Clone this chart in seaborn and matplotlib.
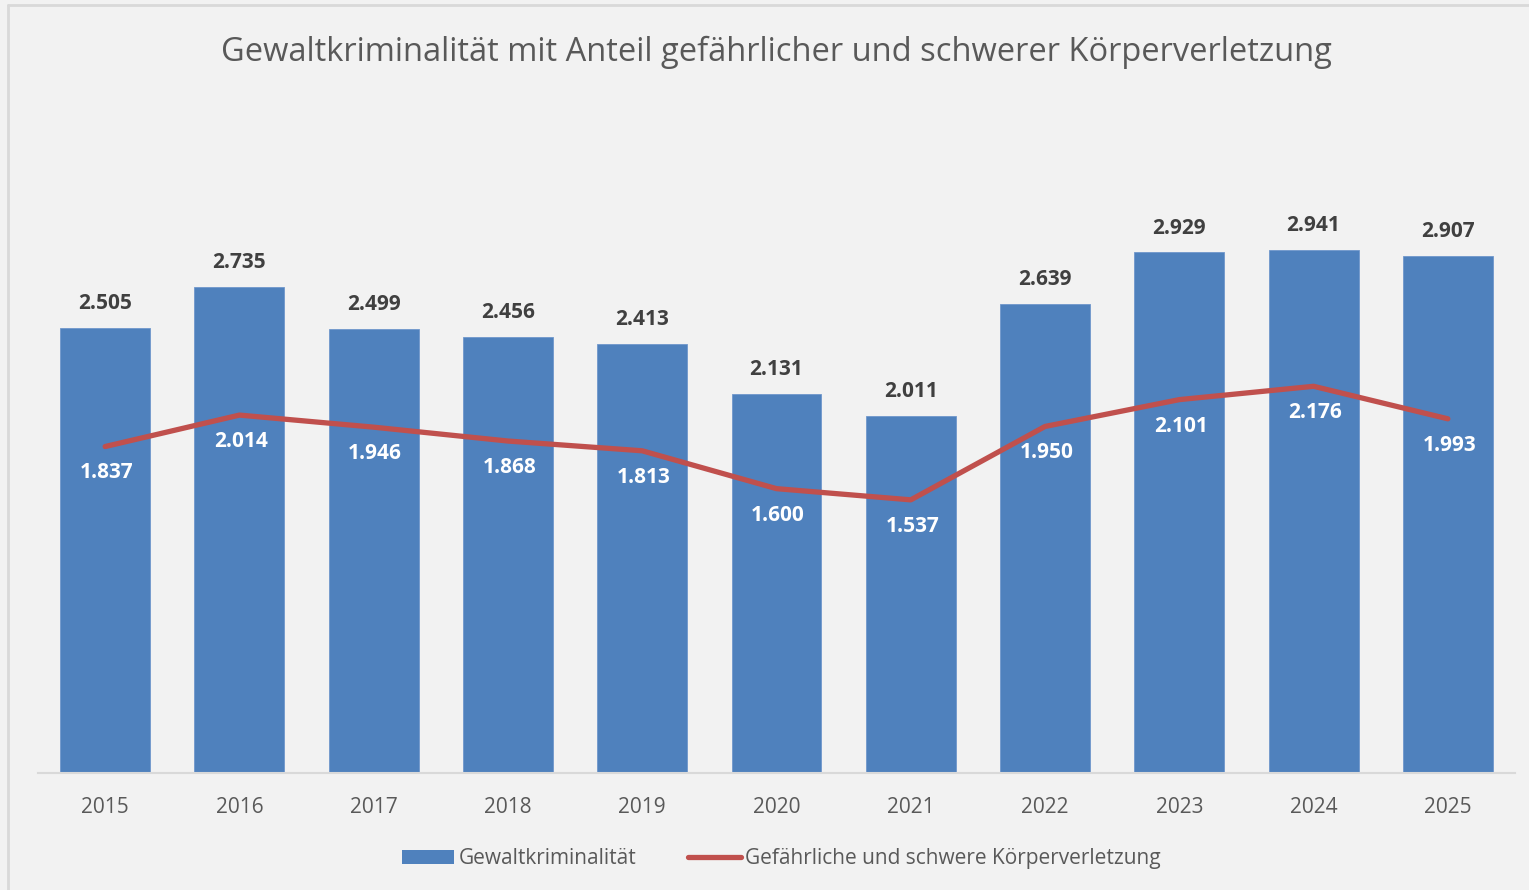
import matplotlib
matplotlib.use("Agg")
import matplotlib.pyplot as plt
from matplotlib.lines import Line2D
from matplotlib.patches import Patch
import pandas as pd
import seaborn as sns

# Data (Tausend Fälle)
years = ["2015", "2016", "2017", "2018", "2019", "2020", "2021", "2022", "2023", "2024", "2025"]
gewalt = [2.505, 2.735, 2.499, 2.456, 2.413, 2.131, 2.011, 2.639, 2.929, 2.941, 2.907]
koerper = [1.837, 2.014, 1.946, 1.868, 1.813, 1.600, 1.537, 1.950, 2.101, 2.176, 1.993]

BLUE = "#4f81bd"
RED = "#c0504d"
BG = "#f2f2f2"
GREY = "#595959"

df = pd.DataFrame({"Jahr": years, "Gewalt": gewalt, "Koerper": koerper})

sns.set_style("white")
plt.rcParams["font.family"] = ["Open Sans", "DejaVu Sans"]

fig = plt.figure(figsize=(15.29, 8.90), dpi=100, facecolor=BG)
ax = fig.add_axes([38 / 1529, 1 - 773 / 890, (1515 - 38) / 1529, (773 - 151) / 890])
ax.set_facecolor(BG)

sns.barplot(data=df, x="Jahr", y="Gewalt", color=BLUE, width=0.67,
            saturation=1, edgecolor="#6f97cc", linewidth=0.6, ax=ax)
sns.lineplot(data=df, x="Jahr", y="Koerper", color=RED, linewidth=3.8,
             sort=False, ax=ax)

ax.bar_label(ax.containers[0], labels=[f"{v:.3f}" for v in gewalt], padding=10,
             fontsize=15, fontweight="bold", color="#404040")

for i, v in enumerate(koerper):
    ax.annotate(f"{v:.3f}", (i, v), xytext=(1, -19), textcoords="offset points",
                ha="center", va="center", fontsize=15, fontweight="bold", color="white")

ax.set_ylim(0, 3.5)
ax.set_xlim(-0.5, len(years) - 0.5)
ax.set_xlabel("")
ax.set_ylabel("")
ax.set_yticks([])
for s in ["top", "right", "left"]:
    ax.spines[s].set_visible(False)
ax.spines["bottom"].set_color("#d9d9d9")
ax.spines["bottom"].set_linewidth(1.5)
ax.tick_params(axis="x", length=0, pad=17, labelsize=15, labelcolor=GREY)

fig.text(0.508, 0.941, "Gewaltkriminalität mit Anteil gefährlicher und schwerer Körperverletzung",
         ha="center", va="center", fontsize=23.5, color=GREY)

handles = [Patch(facecolor=BLUE, edgecolor="none"),
           Line2D([0], [0], color=RED, linewidth=3.8, solid_capstyle="round")]
fig.legend(handles, ["Gewaltkriminalität", "Gefährliche und schwere Körperverletzung"],
           loc="center", bbox_to_anchor=(0.511, 0.035), ncol=2, frameon=False,
           fontsize=15, labelcolor=GREY, handlelength=2.5, handleheight=0.7,
           handletextpad=0.2, columnspacing=2.5)

# chart border
fig.add_artist(Line2D([8 / 1529, 8 / 1529], [0, 1 - 5 / 890], color="#d9d9d9", linewidth=2))
fig.add_artist(Line2D([8 / 1529, 1], [1 - 5 / 890, 1 - 5 / 890], color="#d9d9d9", linewidth=2))

fig.savefig("out.png", dpi=100, facecolor=BG)
